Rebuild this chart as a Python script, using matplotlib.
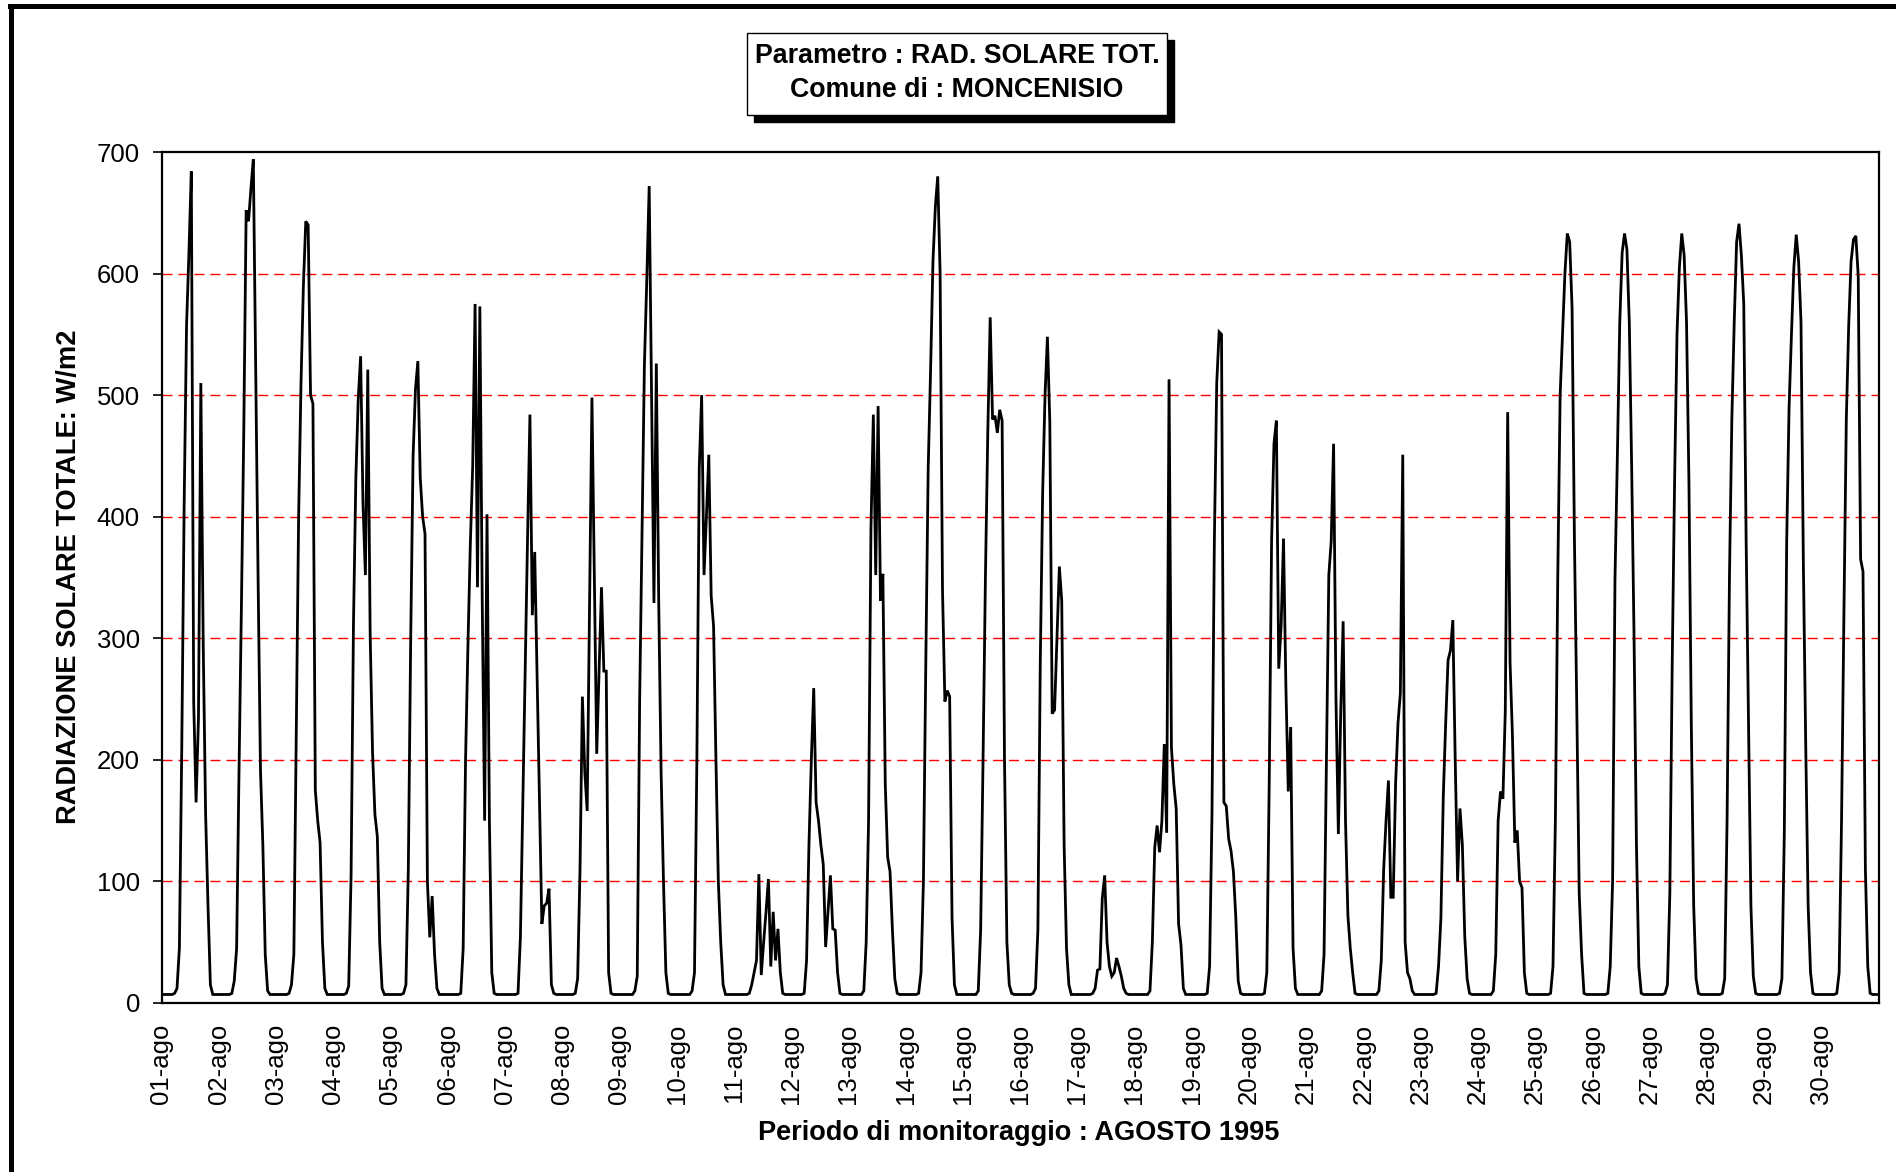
import numpy as np
import matplotlib
matplotlib.use("Agg")
import matplotlib.pyplot as plt
from matplotlib.patches import Rectangle
from matplotlib.lines import Line2D

plt.rcParams['font.family'] = ['Liberation Sans', 'DejaVu Sans']

# ---------------- data: hourly total solar radiation (W/m2), August 1995 ----------------
ago01 = [7,7,7,7,7,8,12,45,211,410,557,617,684,248,165,234,510,294,155,80,15,7,7,7]
ago02 = [7,7,7,7,7,8,18,45,190,325,470,652,643,670,694,520,350,192,130,40,10,7,7,7]
ago03 = [7,7,7,7,7,8,15,40,220,400,510,590,643,640,500,493,175,150,132,50,12,7,7,7]
ago04 = [7,7,7,7,7,8,14,105,312,432,497,532,410,352,521,303,206,155,137,50,12,7,7,7]
ago05 = [7,7,7,7,7,8,15,110,300,450,505,528,432,400,386,100,54,88,40,12,7,7,7,7]
ago06 = [7,7,7,7,7,8,45,200,294,377,442,575,342,573,330,150,402,150,25,8,7,7,7,7]
ago07 = [7,7,7,7,7,8,54,165,274,383,484,319,371,269,167,65,80,82,94,15,8,7,7,7]
ago08 = [7,7,7,7,7,8,20,110,252,190,158,328,498,350,205,273,342,273,273,25,8,7,7,7]
ago09 = [7,7,7,7,7,7,10,22,248,386,525,595,672,500,329,526,330,190,100,25,8,7,7,7]
ago10 = [7,7,7,7,7,7,10,25,200,440,500,352,400,451,335,310,200,100,50,15,7,7,7,7]
ago11 = [7,7,7,7,7,7,8,15,25,35,106,23,50,75,102,30,75,35,61,25,8,7,7,7]
ago12 = [7,7,7,7,7,8,35,130,200,259,165,150,130,114,46,75,105,61,60,25,8,7,7,7]
ago13 = [7,7,7,7,7,7,10,50,150,390,484,352,491,331,353,180,120,108,60,20,8,7,7,7]
ago14 = [7,7,7,7,7,8,25,100,280,440,520,610,655,680,600,340,248,257,252,70,15,7,7,7]
ago15 = [7,7,7,7,7,7,10,60,200,350,470,564,480,483,469,488,479,200,50,15,8,7,7,7]
ago16 = [7,7,7,7,7,8,12,60,280,420,500,548,478,238,241,300,359,331,130,45,15,7,7,7]
ago17 = [7,7,7,7,7,7,8,12,27,28,86,105,50,30,22,25,37,30,22,12,8,7,7,7]
ago18 = [7,7,7,7,7,7,10,50,128,146,124,150,213,140,513,210,180,160,65,48,12,7,7,7]
ago19 = [7,7,7,7,7,7,8,30,155,380,510,552,550,165,162,135,125,108,70,18,8,7,7,7]
ago20 = [7,7,7,7,7,7,8,25,180,380,460,479,275,310,382,260,174,227,45,12,7,7,7,7]
ago21 = [7,7,7,7,7,7,10,40,200,352,380,460,250,139,240,314,150,72,45,25,8,7,7,7]
ago22 = [7,7,7,7,7,7,10,35,110,150,183,87,87,180,230,255,451,50,25,20,10,7,7,7]
ago23 = [7,7,7,7,7,7,8,30,70,170,230,282,290,315,200,100,160,130,55,20,8,7,7,7]
ago24 = [7,7,7,7,7,7,10,40,150,174,168,240,486,280,220,132,142,100,95,25,8,7,7,7]
ago25 = [7,7,7,7,7,7,8,30,150,350,500,550,600,633,626,572,380,240,90,40,8,7,7,7]
ago26 = [7,7,7,7,7,7,8,30,100,349,450,560,617,633,620,560,440,300,130,30,8,7,7,7]
ago27 = [7,7,7,7,7,7,8,15,90,280,430,550,605,633,615,560,430,230,80,20,8,7,7,7]
ago28 = [7,7,7,7,7,7,8,20,150,350,480,560,626,641,615,575,380,230,80,22,8,7,7,7]
ago29 = [7,7,7,7,7,7,8,20,140,380,490,550,605,632,610,560,360,210,80,25,8,7,7,7]
ago30 = [7,7,7,7,7,7,8,25,150,320,480,557,610,628,631,598,365,355,110,30,8,7,7,7]

day_labels = ["%02d-ago" % d for d in range(1, 31)]
y_ticks = [0, 100, 200, 300, 400, 500, 600, 700]

title_lines = ["Parametro : RAD. SOLARE TOT.", "Comune di : MONCENISIO"]
y_title = "RADIAZIONE SOLARE TOTALE: W/m2"
x_title = "Periodo di monitoraggio : AGOSTO 1995"

days = [ago01, ago02, ago03, ago04, ago05, ago06, ago07, ago08, ago09, ago10,
        ago11, ago12, ago13, ago14, ago15, ago16, ago17, ago18, ago19, ago20,
        ago21, ago22, ago23, ago24, ago25, ago26, ago27, ago28, ago29, ago30]
values = np.concatenate([np.array(d, dtype=float) for d in days])
n = len(values)
x = (np.arange(n) + 0.5) / 24.0

# ---------------- figure ----------------
W, H = 1896, 1172
fig = plt.figure(figsize=(W / 100, H / 100), dpi=100)

def fx(px):
    return px / W

def fy(py):
    return 1 - py / H

L, R, T, B = 161.5, 1878.5, 152, 1003
ax = fig.add_axes([fx(L), fy(B), fx(R - L), (B - T) / H])

ax.plot(x, values, color='black', lw=2.0, solid_joinstyle='miter', zorder=3)
ax.set_xlim(0, n / 24.0)
ax.set_ylim(0, 700)

for yv in y_ticks[1:-1]:
    ax.axhline(yv, color='#ff0000', lw=1.0, linestyle=(0, (7.2, 4.3)), zorder=1)

ax.set_yticks(y_ticks)
ax.set_yticklabels([str(v) for v in y_ticks], fontsize=18.5)
ax.tick_params(axis='y', direction='out', length=6.5, width=1.2, pad=9)

ax.set_xticks(np.arange(30))
ax.set_xticklabels(day_labels, rotation=90, fontsize=18.5)
ax.tick_params(axis='x', length=0, pad=15)

for s in ax.spines.values():
    s.set_linewidth(1.6)
    s.set_color('black')

fig.text(fx(69), fy(577), y_title, rotation=90, ha='center', va='center',
         fontsize=19.6, fontweight='bold')
fig.text(fx(1019), fy(1133), x_title, ha='center', va='center',
         fontsize=19.5, fontweight='bold')

# title box with shadow
bx0, bx1, by0, by1 = 747, 1167, 33, 115
fig.patches.append(Rectangle((fx(bx0 + 7), fy(by1 + 7)), fx(bx1 - bx0), (by1 - by0) / H,
                             transform=fig.transFigure, facecolor='black', edgecolor='black',
                             zorder=1))
fig.patches.append(Rectangle((fx(bx0), fy(by1)), fx(bx1 - bx0), (by1 - by0) / H,
                             transform=fig.transFigure, facecolor='white', edgecolor='black',
                             lw=1.0, zorder=2))
fig.text(fx(957), fy(56), title_lines[0], ha='center', va='center', fontsize=19.3,
         fontweight='bold', zorder=3)
fig.text(fx(957), fy(90), title_lines[1], ha='center', va='center', fontsize=19.3,
         fontweight='bold', zorder=3)

# outer chart-area border (top and left visible)
fig.lines.append(Line2D([fx(10), fx(W)], [fy(6), fy(6)], transform=fig.transFigure,
                        color='black', lw=3.6))
fig.lines.append(Line2D([fx(10.5), fx(10.5)], [fy(6), fy(H)], transform=fig.transFigure,
                        color='black', lw=3.6))

fig.savefig("out.png", dpi=100)
